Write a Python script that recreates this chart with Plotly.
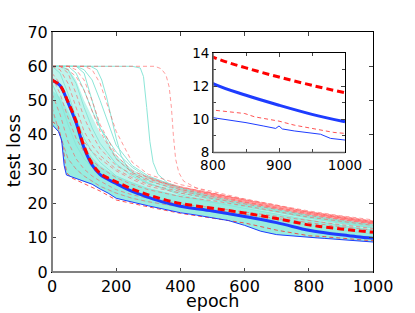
import plotly.graph_objects as go

# ---------------- data ----------------
G = [0, 25, 50, 75, 100, 125, 150, 200, 250, 300, 400, 500, 600, 700, 800, 900, 1000]

mean_x = [0, 25, 50, 75, 100, 125, 150, 200, 250, 300, 350, 400, 500, 600, 700, 800, 850, 900, 950, 1000]
blue_mean = [56, 54.4, 49.4, 43.5, 36.2, 31.2, 28.4, 25.8, 23.5, 21.8, 20.3, 19.2, 17.8, 16.2, 14.4, 12.15, 11.45, 10.85, 10.3, 9.85]
red_mean = [56, 54.4, 49.6, 44.0, 36.6, 31.6, 28.8, 26.3, 24.2, 22.5, 21.1, 20.0, 18.6, 17.2, 15.6, 13.75, 13.1, 12.55, 12.05, 11.6]

blue_min_x = [0, 20, 30, 38, 45, 60, 80, 100, 125, 150, 175, 200, 250, 300, 350, 400, 450, 500, 550, 600,
              650, 700, 750, 800, 826, 850, 876, 895, 900, 905, 923, 945, 963, 978, 990, 1000]
blue_min_y = [43, 41, 38.5, 31, 28.3, 27.8, 27, 26.3, 25.6, 24.2, 23, 21.5, 20.3, 19.3, 18.3, 17.3, 16.6, 15.8, 15, 13.6,
              11.9, 10.9, 10.45, 10.1, 9.95, 9.8, 9.6, 9.45, 9.6, 9.42, 9.3, 9.2, 9.1, 8.85, 8.8, 8.75]

red_min_x = [0, 20, 35, 45, 60, 100, 150, 200, 250, 300, 400, 500, 600, 700, 802, 848, 863, 900, 923, 948, 983, 1000]
red_min_y = [44, 42.5, 36, 29, 27.5, 25.8, 23.6, 21.0, 19.9, 19.0, 17.1, 15.8, 14.3, 12.2, 10.55, 10.35, 10.15, 9.89, 9.65, 9.45, 9.21, 9.15]

cyan_outer_upper = [60, 60, 59.5, 56, 50, 45, 40.5, 34, 30, 27.3, 23.8, 21.6, 19.7, 18.0, 16.2, 14.6, 13.2]
cyan_core_upper = [53, 51, 47, 42, 37, 33.5, 31, 28, 26, 24.4, 22.2, 20.5, 18.8, 17.0, 15.2, 13.8, 12.4]

sb_x = [250, 300, 350, 400, 450, 500, 600, 700, 800, 900, 1000]
sb_upper = [29.5, 27.8, 26.3, 25, 24, 23, 21, 19.2, 17.5, 16.2, 14.9]
sb_lower = [25, 23.5, 22, 20.8, 19.9, 19.2, 17.8, 16.2, 14.4, 13, 11.8]

# individual runs on grid G
cyan_runs = [
    [60, 60, 60, 58, 53, 47, 42, 35, 30.5, 27.5, 24, 21.5, 19.5, 18, 16.3, 14.8, 13.3],
    [60, 60, 60, 60, 59, 56, 50, 37, 31, 28, 24.5, 22, 20, 18.2, 16.5, 15, 13.5],
    [55, 50, 43, 37, 33, 30.5, 28.5, 25.5, 23.5, 22, 20, 18.5, 17, 15.3, 13.6, 12.2, 11],
    [60, 58, 52, 45, 39, 35, 32, 28, 26, 24.3, 22, 20.3, 18.6, 16.8, 15, 13.5, 12.2],
    [47, 40, 33, 30, 28, 26.5, 25, 23, 21.5, 20.5, 18.8, 17.5, 16, 14, 12.5, 11.3, 10.2],
    [60, 60, 59, 55, 48, 42, 37.5, 31.5, 28, 25.8, 23, 21, 19.2, 17.5, 15.7, 14.2, 12.8],
    [60, 60, 60, 60, 58, 50, 42, 33, 29, 26.8, 23.5, 21.4, 19.6, 17.8, 16, 14.5, 13],
]
salmon_runs = [
    [60, 60, 58, 52, 45, 40, 36, 31, 28.5, 26.5, 24, 22.5, 20.5, 18.8, 17.2, 15.8, 14.6],
    [58, 55, 49, 43, 38, 35, 33, 29.5, 27, 25, 23, 21.5, 20, 18.3, 16.5, 15.2, 14],
    [60, 60, 60, 59, 56, 50, 43, 34, 29.5, 27.5, 24.5, 22.8, 21, 19.2, 17.6, 16.3, 14.9],
    [52, 46, 38, 33, 30, 28, 26.5, 24, 22.5, 21.5, 19.8, 18.8, 17.5, 16.2, 15, 13.8, 12.7],
    [60, 59, 55, 48, 41, 37, 34, 30, 27.5, 25.5, 23.5, 22, 20.3, 18.6, 16.9, 15.5, 14.3],
    [60, 60, 60, 60, 60, 59, 55, 41, 32, 28.5, 25.5, 23.5, 21.3, 19.5, 17.8, 16.4, 15.2],
    [48, 40, 33, 30, 28, 26.5, 25, 23, 21.5, 20.5, 19, 18, 16.8, 15.5, 14.2, 13.2, 12.2],
    [57, 52, 45, 39, 35, 32.5, 30.5, 27.5, 25.5, 24, 22, 20.8, 19.3, 17.7, 16, 14.8, 13.6],
    [60, 60, 59, 57, 53, 47, 41, 33, 29, 27, 24.8, 23, 21.2, 19.5, 17.4, 16, 14.7],
]

# late-dropping runs
cyanA_x = [0, 250, 275, 285, 295, 305, 315, 330, 360, 400, 500, 600, 700, 800, 900, 1000]
cyanA_y = [60, 60, 59.5, 57, 48, 38, 32, 28.5, 26, 24.5, 21.5, 19.5, 18, 16.5, 15, 13.8]
cyanC_x = [0, 120, 140, 155, 170, 185, 200, 215, 235, 260, 300, 400, 500, 600, 700, 800, 900, 1000]
cyanC_y = [60, 60, 59, 56, 51, 45, 39, 34, 30.5, 28, 26, 22.5, 20.5, 19, 17.5, 16, 14.5, 13]
salmonB_x = [0, 320, 340, 355, 365, 372, 378, 385, 395, 410, 450, 500, 600, 700, 800, 900, 1000]
salmonB_y = [60, 60, 59.3, 57.5, 54, 48, 40, 33, 29, 26.5, 24.5, 23, 21, 19.2, 17.5, 15.8, 14.3]

# ---------------- styles ----------------
CYAN_LINE = "rgb(140,230,216)"
CYAN_OUTER = "rgb(190,244,236)"
CYAN_CORE = "rgb(152,236,224)"
SALMON_LINE = "rgba(255,90,90,0.6)"
SALMON_FILL = "rgb(255,160,160)"
BLUE = "rgb(30,60,255)"
RED = "rgb(255,0,0)"
FONT = "DejaVu Sans"

fig = go.Figure()

def fill_poly(xu, yu, xl, yl, color):
    fig.add_trace(go.Scatter(x=list(xu) + list(xl)[::-1], y=list(yu) + list(yl)[::-1],
                             fill="toself", fillcolor=color, mode="lines",
                             line=dict(width=0), hoverinfo="skip", showlegend=False))

fill_poly(sb_x, sb_upper, sb_x, sb_lower, SALMON_FILL)
fill_poly(G, cyan_outer_upper, blue_min_x, blue_min_y, CYAN_OUTER)
fill_poly(G, cyan_core_upper, blue_min_x, blue_min_y, CYAN_CORE)

for ys in cyan_runs:
    fig.add_trace(go.Scatter(x=G, y=ys, mode="lines", line=dict(color=CYAN_LINE, width=1), showlegend=False))
for xs, ys in [(cyanA_x, cyanA_y), (cyanC_x, cyanC_y)]:
    fig.add_trace(go.Scatter(x=xs, y=ys, mode="lines", line=dict(color=CYAN_LINE, width=1), showlegend=False))
for ys in salmon_runs:
    fig.add_trace(go.Scatter(x=G, y=ys, mode="lines",
                             line=dict(color=SALMON_LINE, width=1, dash="4px,3px"), showlegend=False))
fig.add_trace(go.Scatter(x=salmonB_x, y=salmonB_y, mode="lines",
                         line=dict(color=SALMON_LINE, width=1, dash="4px,3px"), showlegend=False))

def summary(xax, yax, thick):
    fig.add_trace(go.Scatter(x=red_min_x, y=red_min_y, mode="lines", xaxis=xax, yaxis=yax,
                             line=dict(color="rgba(255,40,40,0.8)", width=1, dash="4px,3px"), showlegend=False))
    fig.add_trace(go.Scatter(x=blue_min_x, y=blue_min_y, mode="lines", xaxis=xax, yaxis=yax,
                             line=dict(color=BLUE, width=1), showlegend=False))
    fig.add_trace(go.Scatter(x=mean_x, y=blue_mean, mode="lines", xaxis=xax, yaxis=yax, line_shape="spline",
                             line=dict(color=BLUE, width=thick), showlegend=False))
    fig.add_trace(go.Scatter(x=mean_x, y=red_mean, mode="lines", xaxis=xax, yaxis=yax, line_shape="spline",
                             line=dict(color=RED, width=thick, dash="7px,4px"), showlegend=False))

summary("x", "y", 3)
summary("x2", "y2", 3)

axis_common = dict(showline=True, linecolor="black", linewidth=1, mirror="ticks", automargin=False,
                   ticks="inside", ticklen=4, tickcolor="#444", showgrid=False, zeroline=False,
                   tickfont=dict(family=FONT, size=16, color="black"))

inset_x = [0.5016, 0.9128]
inset_y = [0.498, 0.9125]

fig.update_layout(
    width=415, height=313, autosize=False,
    margin=dict(l=52, r=42, t=32, b=41),
    paper_bgcolor="white", plot_bgcolor="white",
    showlegend=False,
    xaxis=dict(domain=[0, 1], range=[0, 1000], dtick=200, **axis_common),
    yaxis=dict(domain=[0, 1], range=[0, 70], dtick=10, **axis_common),
    xaxis2=dict(domain=inset_x, range=[800, 1000], dtick=100, anchor="y2",
                minor=dict(dtick=50, ticks="inside", ticklen=3, tickcolor="#444"),
                **{**axis_common, "tickfont": dict(family=FONT, size=13.5, color="black")}),
    yaxis2=dict(domain=inset_y, range=[8, 14], dtick=2, anchor="x2",
                minor=dict(dtick=1, ticks="inside", ticklen=3, tickcolor="#444"),
                **{**axis_common, "tickfont": dict(family=FONT, size=13.5, color="black")}),
    shapes=[
        dict(type="rect", xref="x2 domain", yref="y2 domain", x0=0, x1=1, y0=0, y1=1,
             fillcolor="white", line=dict(width=0), layer="below"),
        dict(type="line", xref="paper", yref="paper", x0=0, x1=0, y0=0, y1=1,
             line=dict(color="rgb(128,128,128)", width=2)),
        dict(type="line", xref="paper", yref="paper", x0=0, x1=1, y0=0, y1=0,
             line=dict(color="rgb(128,128,128)", width=2)),
        dict(type="line", xref="x2 domain", yref="y2 domain", x0=0, x1=0, y0=0, y1=1,
             line=dict(color="rgb(100,100,100)", width=1.5)),
        dict(type="line", xref="x2 domain", yref="y2 domain", x0=0, x1=1, y0=0, y1=0,
             line=dict(color="rgb(100,100,100)", width=1.5)),
    ],
    annotations=[
        dict(text="epoch", xref="paper", yref="paper", x=0.5, y=-0.169, xanchor="center", yanchor="bottom",
             showarrow=False, font=dict(family=FONT, size=17.5, color="black")),
        dict(text="test loss", xref="paper", yref="paper", x=-0.118, y=0.504, xanchor="center", yanchor="middle",
             textangle=-90, showarrow=False, font=dict(family=FONT, size=17.5, color="black")),
    ],
)

# remove the default 8px page margin so the figure fills the window exactly; hide the mode bar
fig.write_html("out.html", config={"displayModeBar": False},
               post_script="document.body.style.margin='0';document.body.style.padding='0';")
